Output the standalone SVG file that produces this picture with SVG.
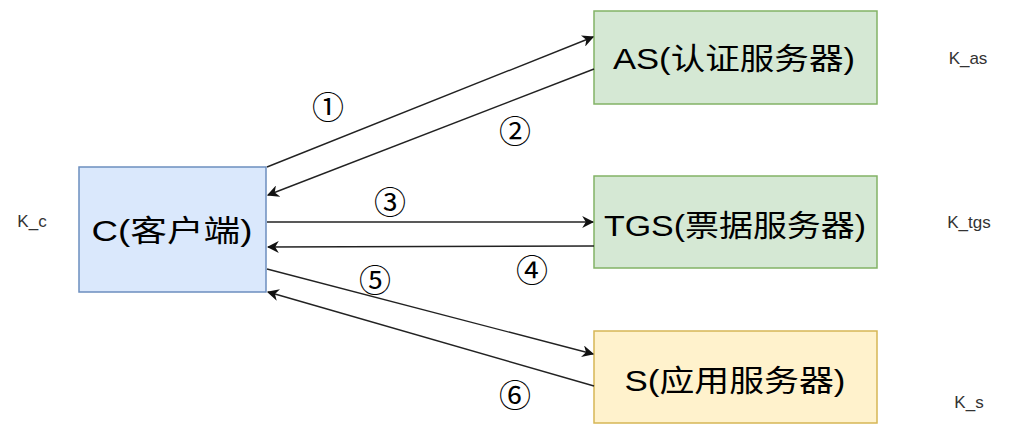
<svg xmlns="http://www.w3.org/2000/svg" width="1012" height="436" viewBox="0 0 1012 436">
<style>
.node text{font-family:"Liberation Sans","Noto Sans CJK SC",sans-serif;font-size:30px;fill:#000;text-anchor:middle;dominant-baseline:central}
.blue{fill:#dae8fc;stroke:#6c8ebf;stroke-width:1.5}
.green{fill:#d5e8d4;stroke:#82b366;stroke-width:1.5}
.yellow{fill:#fff2cc;stroke:#d6b656;stroke-width:1.5}
.edge{stroke:#222;stroke-width:1.4;fill:none;marker-end:url(#arr)}
.num{font-family:"Noto Sans CJK SC",sans-serif;font-size:32px;fill:#000;text-anchor:middle;dominant-baseline:central}
.key{font-family:"Liberation Sans",sans-serif;font-size:17px;fill:#333;text-anchor:middle;dominant-baseline:central}
</style>
<defs>
<marker id="arr" viewBox="0 0 10 10" refX="9" refY="5" markerWidth="12" markerHeight="12" markerUnits="userSpaceOnUse" orient="auto">
<path d="M0,0 L10,5 L0,10 L3,5 Z" fill="#111"/>
</marker>
</defs>
<g id="C" class="node"><rect class="blue" x="79" y="167" width="187" height="125"/><text x="172" y="230" textLength="161" lengthAdjust="spacingAndGlyphs">C(客户端)</text></g>
<g id="AS" class="node"><rect class="green" x="594" y="11" width="283" height="93"/><text x="734" y="58" textLength="242" lengthAdjust="spacingAndGlyphs">AS(认证服务器)</text></g>
<g id="TGS" class="node"><rect class="green" x="594" y="176" width="283" height="92"/><text x="735" y="225" textLength="262" lengthAdjust="spacingAndGlyphs">TGS(票据服务器)</text></g>
<g id="S" class="node"><rect class="yellow" x="594" y="331" width="283" height="92"/><text x="735" y="380" textLength="221" lengthAdjust="spacingAndGlyphs">S(应用服务器)</text></g>
<g id="connectors">
<path class="edge" d="M267,167 L593,37"/>
<path class="edge" d="M594,69 L268,195"/>
<path class="edge" d="M267,222 L593,222"/>
<path class="edge" d="M594,246 L268,247"/>
<path class="edge" d="M267,269 L593,354"/>
<path class="edge" d="M594,386 L268,292"/>
</g>
<g id="labels">
<text class="num" x="328" y="105">①</text>
<text class="num" x="515" y="129">②</text>
<text class="num" x="390" y="200">③</text>
<text class="num" x="532" y="268">④</text>
<text class="num" x="375" y="278">⑤</text>
<text class="num" x="515" y="393">⑥</text>
</g>
<g id="keys">
<text class="key" x="32" y="221">K_c</text>
<text class="key" x="968" y="58">K_as</text>
<text class="key" x="969" y="222">K_tgs</text>
<text class="key" x="969" y="402">K_s</text>
</g>
</svg>
